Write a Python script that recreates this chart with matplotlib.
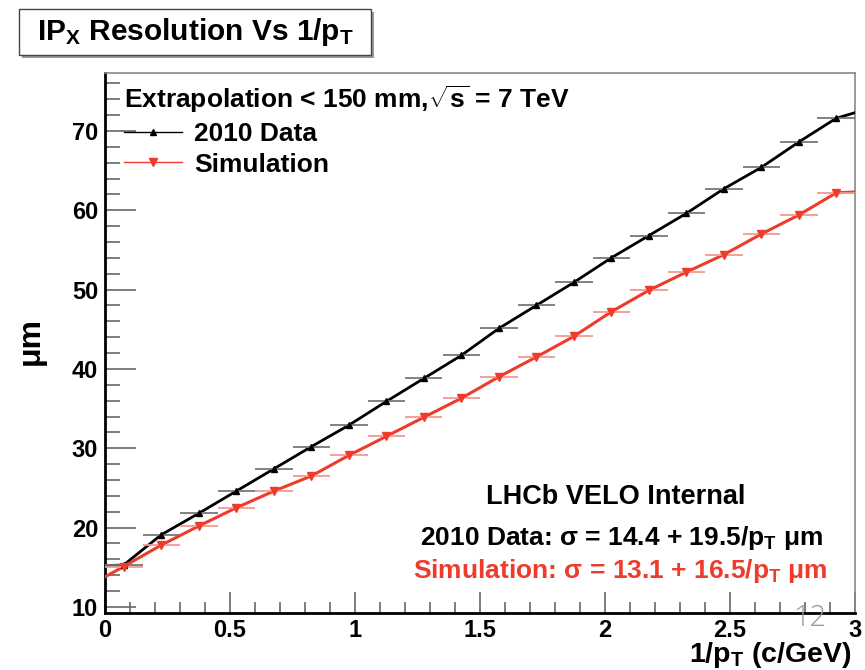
import matplotlib.pyplot as plt
from matplotlib.lines import Line2D
from matplotlib.patches import Rectangle

# bin centres of 1/pT (c/GeV), half bin width for the horizontal bars
inv_pt = [0.075, 0.225, 0.375, 0.525, 0.675, 0.825, 0.975, 1.125, 1.275, 1.425,
          1.575, 1.725, 1.875, 2.025, 2.175, 2.325, 2.475, 2.625, 2.775, 2.925]
half_bin = 0.075

# IPx resolution (um)
data_2010 = [15.3, 19.1, 21.8, 24.6, 27.4, 30.2, 32.9, 35.9, 38.8, 41.7,
             45.1, 48.0, 50.9, 54.0, 56.8, 59.6, 62.7, 65.4, 68.6, 71.6]
simulation = [15.1, 17.8, 20.2, 22.5, 24.6, 26.5, 29.1, 31.5, 33.9, 36.3,
              39.0, 41.5, 44.1, 47.2, 49.9, 52.2, 54.4, 57.0, 59.4, 62.2]

# where the drawn curves meet the frame edges (x = 0 and x = 3)
data_ends = [15.2, 72.3]
sim_ends = [13.8, 62.3]

RED = '#ee3b2b'

plt.rcParams['font.family'] = ['Liberation Sans', 'DejaVu Sans']
plt.rcParams['font.weight'] = 'bold'
plt.rcParams['mathtext.fontset'] = 'custom'
plt.rcParams['mathtext.rm'] = 'Liberation Sans:bold'
plt.rcParams['mathtext.it'] = 'Liberation Sans:bold'
plt.rcParams['mathtext.bf'] = 'Liberation Sans:bold'

W, H = 865, 670


def fx(px):
    return px / W


def fy(py):
    return 1 - py / H


def main():
    fig = plt.figure(figsize=(8.65, 6.7), dpi=100)
    ax = fig.add_axes([fx(105), fy(613), 750 / W, 540 / H])

    xs = [0.0] + inv_pt + [3.0]
    ax.plot(xs, [data_ends[0]] + data_2010 + [data_ends[1]], color='black', lw=2, zorder=3)
    ax.plot(xs, [sim_ends[0]] + simulation + [sim_ends[1]], color=RED, lw=2.2, zorder=3)

    ax.errorbar(inv_pt, data_2010, xerr=half_bin, fmt='^', color='black', ms=5,
                ecolor='#777777', elinewidth=1.3, capsize=0, zorder=4)
    ax.errorbar(inv_pt, simulation, xerr=half_bin, fmt='v', color=RED, ms=6,
                ecolor='#f29a90', elinewidth=1.3, capsize=0, zorder=4)

    ax.set_xlim(0, 3)
    ax.set_ylim(9.24, 77.3)
    ax.set_xticks([0, 0.5, 1, 1.5, 2, 2.5, 3])
    ax.set_xticklabels(['0', '0.5', '1', '1.5', '2', '2.5', '3'])
    ax.set_xticks([i / 10 for i in range(31)], minor=True)
    ax.set_yticks([10, 20, 30, 40, 50, 60, 70])
    ax.set_yticks(list(range(10, 78, 2)), minor=True)

    ax.tick_params(which='both', direction='in', colors='#666666', width=1.2,
                   labelcolor='black', labelsize=17)
    ax.tick_params(axis='y', which='major', length=22, pad=5)
    ax.tick_params(axis='y', which='minor', length=11)
    ax.tick_params(axis='x', which='major', length=15, pad=4)
    ax.tick_params(axis='x', which='minor', length=8)
    for lab in ax.get_xticklabels() + ax.get_yticklabels():
        lab.set_fontweight('bold')

    ax.spines['left'].set_linewidth(2)
    ax.spines['bottom'].set_linewidth(2)
    for side in ['top', 'right']:
        ax.spines[side].set_color('#888888')
        ax.spines[side].set_linewidth(1.2)

    # legend
    handles = [Line2D([], [], color='black', lw=1, marker='^', ms=5),
               Line2D([], [], color=RED, lw=1, marker='v', ms=6)]
    ax.legend(handles, ['2010 Data', 'Simulation'],
              title=r'Extrapolation < 150 mm,$\sqrt{\mathregular{s}}$ = 7 TeV',
              loc='upper left', bbox_to_anchor=(0.022, 0.985), frameon=False,
              prop={'size': 19, 'weight': 'bold'},
              title_fontproperties={'size': 19, 'weight': 'bold'},
              alignment='left', handlelength=2.2, handletextpad=0.45,
              labelspacing=0.25, borderaxespad=0.0, borderpad=0.1)

    # fit results
    fig.text(fx(616), fy(497), 'LHCb VELO Internal', ha='center', va='center',
             fontsize=19.5, fontweight='bold')
    fig.text(fx(823), fy(538),
             r'2010 Data: σ = 14.4 + 19.5/p$_{T}$ μm', ha='right', va='center',
             fontsize=19, fontweight='bold', color='black')
    fig.text(fx(828), fy(571),
             r'Simulation: σ = 13.1 + 16.5/p$_{T}$ μm', ha='right', va='center',
             fontsize=19, fontweight='bold', color=RED)

    # axis titles
    fig.text(fx(852), fy(662), r'1/p$_{T}$ (c/GeV)', ha='right', va='baseline',
             fontsize=20.5, fontweight='bold')
    fig.text(fx(31), fy(341), 'μm', rotation=90, ha='center', va='center',
             fontsize=23, fontweight='bold')

    # title box with shadow
    fig.patches.append(Rectangle((fx(22), fy(58)), 352 / W, 46 / H,
                                 transform=fig.transFigure, facecolor='#999999',
                                 edgecolor='none', zorder=1))
    fig.patches.append(Rectangle((fx(19), fy(55)), 352 / W, 46 / H,
                                 transform=fig.transFigure, facecolor='white',
                                 edgecolor='#444444', lw=1, zorder=2))
    fig.text(fx(195), fy(32), r'IP$_{X}$ Resolution Vs 1/p$_{T}$',
             ha='center', va='center', fontsize=21.5, fontweight='bold', zorder=3)

    # slide number
    fig.text(fx(810), fy(618), '12', ha='center', va='center', fontsize=21,
             color='#999999', family='Open Sans', fontweight='light')

    fig.savefig('out.png', dpi=100)


if __name__ == '__main__':
    main()
